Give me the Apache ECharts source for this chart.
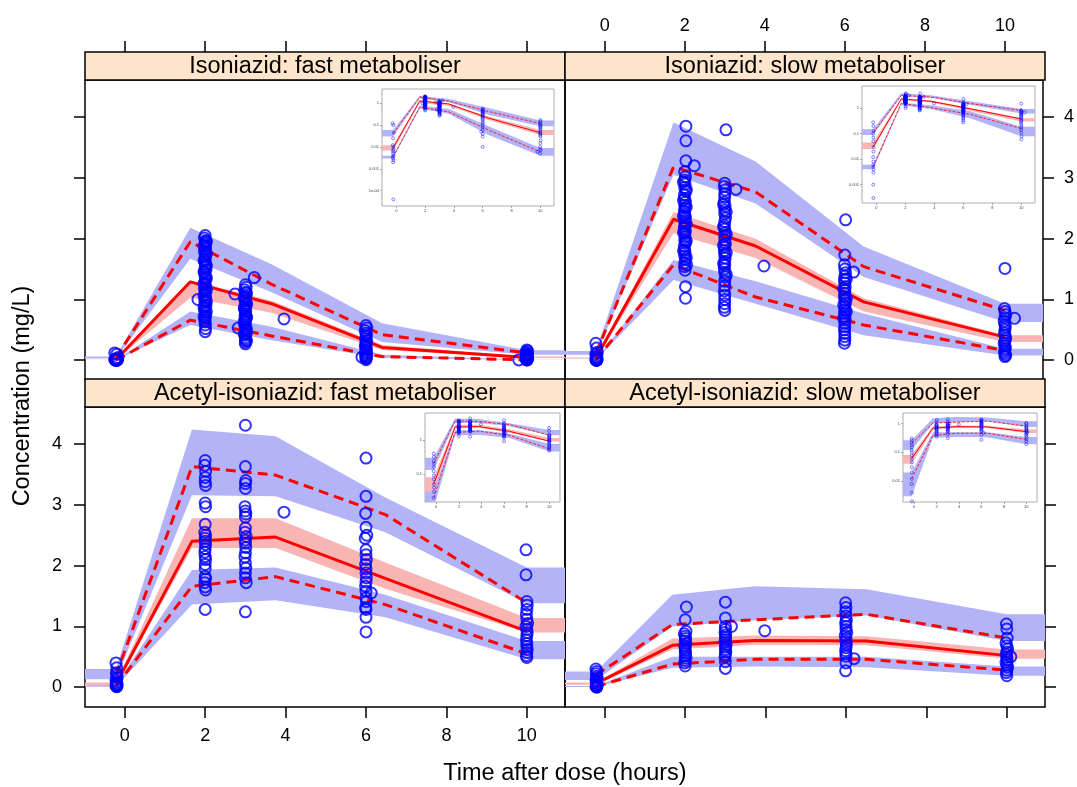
<!DOCTYPE html>
<html><head><meta charset="utf-8">
<script src="https://cdn.jsdelivr.net/npm/echarts@6/dist/echarts.min.js"></script>
<style>html,body{margin:0;padding:0;background:#fff}#c{width:1077px;height:787px}</style>
</head><body><div id="c"></div>
<script>
// ---------- tick labels / titles ----------
const xTicks = [0, 2, 4, 6, 8, 10];
const yTicks = [0, 1, 2, 3, 4];
const logTicks = [1e-4, 1e-3, 0.01, 0.1, 1];
const panelTitles = ['Isoniazid: fast metaboliser', 'Isoniazid: slow metaboliser',
  'Acetyl-isoniazid: fast metaboliser', 'Acetyl-isoniazid: slow metaboliser'];
const xTitle = 'Time after dose (hours)';
const yTitle = 'Concentration (mg/L)';

// ---------- Isoniazid, fast metaboliser ----------
const inhFastBinTime = [-0.22, 1.63, 3.65, 6.4, 10.0];
const inhFastMedian = [0.009, 1.29, 0.93, 0.21, 0.045];
const inhFastMedianLo = [0.007, 1.03, 0.78, 0.17, 0.035];
const inhFastMedianHi = [0.012, 1.31, 0.98, 0.25, 0.06];
const inhFastP95 = [0.04, 1.95, 1.25, 0.42, 0.12];
const inhFastP95Lo = [0.03, 1.67, 1.12, 0.3, 0.09];
const inhFastP95Hi = [0.06, 2.18, 1.58, 0.61, 0.165];
const inhFastP5 = [0.0035, 0.66, 0.4, 0.06, 0.006];
const inhFastP5Lo = [0.003, 0.58, 0.33, 0.035, 0.004];
const inhFastP5Hi = [0.004, 0.8, 0.55, 0.09, 0.009];
const inhFastObs = [
  [-0.25,0.12],[-0.2,0.1],[-0.17,0.045],[-0.22,0.025],[-0.25,0.012],[-0.2,0.01],[-0.18,0.008],[-0.23,0.007],[-0.2,0.006],[-0.22,0.005],[-0.19,0.004],[-0.24,0.0035],[-0.21,0.003],[-0.2,0.0025],[-0.22,0.002],[-0.2,0.00004],
  [2.0,2.05],[1.98,2.01],[2.02,1.97],[2.0,1.93],[1.99,1.9],[2.01,1.86],[2.0,1.83],[1.98,1.79],[2.02,1.74],[2.0,1.71],[2.0,1.66],[1.99,1.62],[2.01,1.58],[2.0,1.53],[2.02,1.49],[1.98,1.44],[2.0,1.41],[2.0,1.37],[2.01,1.33],[1.99,1.28],[2.0,1.24],[2.02,1.2],[1.98,1.17],[2.0,1.12],[2.0,1.08],[2.01,1.03],[1.82,1.0],[1.99,0.99],[2.0,0.95],[2.02,0.9],[2.0,0.86],[1.98,0.83],[2.0,0.78],[2.01,0.74],[2.0,0.7],[1.99,0.66],[2.0,0.63],[2.0,0.58],[2.01,0.52],[2.0,0.47],
  [2.03,1.95],[1.97,1.88],[2.03,1.76],[1.97,1.64],[2.03,1.55],[1.97,1.46],[2.03,1.35],[1.97,1.26],[2.03,1.15],[1.97,1.06],[2.03,0.97],[1.97,0.88],[2.03,0.8],[1.97,0.72],
  [3.0,1.24],[3.22,1.36],[3.02,1.2],[2.98,1.16],[3.0,1.12],[2.74,1.09],[3.01,1.05],[3.0,1.01],[2.99,0.98],[3.02,0.94],[3.0,0.9],[2.98,0.87],[3.0,0.83],[3.01,0.8],[3.0,0.76],[2.99,0.73],[3.02,0.69],[3.0,0.66],[3.0,0.62],[2.98,0.59],[3.01,0.55],[2.82,0.53],[3.0,0.51],[3.0,0.48],[3.02,0.44],[2.99,0.41],[3.0,0.37],[3.01,0.34],[3.0,0.3],[3.0,0.27],
  [3.03,1.1],[2.97,1.03],[3.03,0.92],[2.97,0.85],[3.03,0.71],[2.97,0.64],[3.03,0.5],[2.97,0.43],[3.03,0.32],
  [3.96,0.68],
  [6.0,0.57],[6.02,0.53],[5.98,0.49],[6.0,0.45],[6.01,0.42],[6.0,0.39],[5.99,0.35],[6.02,0.32],[6.0,0.29],[6.0,0.26],[5.98,0.23],[6.01,0.2],[6.0,0.17],[6.0,0.14],[6.02,0.12],[5.99,0.1],[6.0,0.08],[6.0,0.06],[5.9,0.05],[6.01,0.04],[6.0,0.03],[6.0,0.01],
  [10.0,0.17],[10.02,0.15],[9.98,0.13],[10.0,0.11],[10.01,0.1],[10.0,0.09],[9.99,0.08],[10.02,0.07],[10.0,0.06],[10.0,0.05],[9.98,0.045],[10.01,0.04],[10.0,0.035],[10.0,0.03],[10.02,0.02],[10.0,0.015],[9.99,0.01],[10.0,0.008],[10.01,0.007],[9.8,0.006],[10.0,0.005]
];

// ---------- Isoniazid, slow metaboliser ----------
const inhSlowBinTime = [-0.22, 1.72, 3.77, 6.47, 10.0];
const inhSlowMedian = [0.03, 2.32, 1.88, 0.96, 0.38];
const inhSlowMedianLo = [0.025, 2.09, 1.68, 0.8, 0.3];
const inhSlowMedianHi = [0.045, 2.44, 2.0, 1.02, 0.41];
const inhSlowP95 = [0.11, 3.18, 2.77, 1.54, 0.82];
const inhSlowP95Lo = [0.09, 3.05, 2.58, 1.37, 0.63];
const inhSlowP95Hi = [0.15, 3.91, 3.27, 1.87, 0.93];
const inhSlowP5 = [0.005, 1.57, 1.04, 0.58, 0.16];
const inhSlowP5Lo = [0.004, 1.32, 0.93, 0.41, 0.08];
const inhSlowP5Hi = [0.006, 1.65, 1.3, 0.77, 0.19];
const inhSlowObs = [
  [-0.22,0.28],[-0.2,0.2],[-0.18,0.13],[-0.22,0.1],[-0.2,0.07],[-0.21,0.05],[-0.19,0.03],[-0.2,0.02],[-0.22,0.012],[-0.2,0.008],[-0.21,0.006],[-0.2,0.005],[-0.19,0.004],[-0.2,0.003],[-0.21,0.001],[-0.2,0.0003],
  [2.03,3.85],[2.03,3.61],[2.03,3.28],[2.24,3.2],[2.0,3.1],[2.02,3.02],[2.0,2.96],[2.01,2.9],[2.0,2.84],[2.03,2.78],[1.99,2.72],[2.0,2.66],[2.02,2.6],[2.0,2.55],[2.01,2.5],[1.99,2.45],[2.0,2.4],[2.02,2.35],[2.0,2.3],[2.01,2.26],[2.0,2.21],[1.99,2.17],[2.02,2.12],[2.0,2.08],[2.01,2.03],[2.0,1.98],[2.02,1.93],[1.99,1.88],[2.0,1.82],[2.01,1.77],[2.0,1.72],[2.02,1.66],[2.0,1.6],[2.05,1.57],[2.0,1.54],[2.01,1.48],[2.02,1.21],[2.02,1.02],
  [1.97,2.93],[2.04,2.81],[1.97,2.63],[2.04,2.52],[1.97,2.37],[2.04,2.24],[1.97,2.1],[2.04,1.96],[1.97,1.8],[2.04,1.69],
  [3.03,3.79],[3.28,2.81],[3.0,2.91],[2.99,2.86],[3.01,2.8],[3.0,2.74],[3.0,2.68],[2.99,2.6],[3.01,2.53],[3.0,2.47],[3.0,2.41],[3.02,2.34],[3.0,2.28],[2.99,2.22],[3.0,2.16],[3.01,2.1],[3.0,2.04],[3.0,1.98],[3.02,1.92],[3.0,1.86],[2.99,1.8],[3.0,1.74],[3.01,1.68],[3.0,1.62],[3.0,1.56],[2.99,1.5],[3.0,1.44],[3.02,1.37],[3.0,1.3],[3.0,1.22],[2.99,1.14],[3.0,1.07],[3.0,1.0],[3.0,0.93],[2.99,0.87],[3.0,0.82],
  [2.97,2.56],[3.04,2.44],[2.97,2.19],[3.04,2.07],[2.97,1.89],[3.04,1.77],[2.97,1.59],[3.04,1.41],
  [3.98,1.55],
  [6.02,2.31],[6.0,1.73],[5.99,1.57],[6.22,1.45],[6.0,1.5],[6.02,1.44],[6.0,1.38],[5.99,1.32],[6.0,1.27],[6.01,1.21],[6.0,1.15],[6.0,1.1],[5.99,1.05],[6.0,0.99],[6.02,0.94],[6.0,0.88],[6.0,0.83],[5.99,0.77],[6.0,0.72],[6.01,0.66],[6.0,0.61],[6.0,0.55],[5.99,0.5],[6.0,0.44],[6.0,0.39],[6.0,0.33],[5.99,0.28],
  [6.04,1.34],[5.97,1.18],[6.04,1.02],[5.97,0.91],[6.04,0.8],[5.97,0.69],
  [10.0,1.51],[9.99,0.85],[10.0,0.8],[10.24,0.69],[10.02,0.75],[10.0,0.7],[9.98,0.64],[10.0,0.59],[10.01,0.55],[10.0,0.5],[9.99,0.45],[10.0,0.41],[10.02,0.36],[10.0,0.32],[9.98,0.28],[10.0,0.24],[10.01,0.2],[10.0,0.17],[9.99,0.14],[10.0,0.11],[10.02,0.08],[10.0,0.06]
];

// ---------- Acetyl-isoniazid, fast metaboliser ----------
const acFastBinTime = [-0.22, 1.67, 3.75, 6.48, 10.0];
const acFastMedian = [0.05, 2.40, 2.47, 1.79, 0.92];
const acFastMedianLo = [0.03, 2.29, 2.29, 1.62, 0.9];
const acFastMedianHi = [0.08, 2.78, 2.78, 2.05, 1.14];
const acFastP95 = [0.2, 3.63, 3.49, 2.84, 1.39];
const acFastP95Lo = [0.13, 3.16, 3.14, 2.55, 1.38];
const acFastP95Hi = [0.3, 4.24, 4.13, 3.12, 1.97];
const acFastP5 = [0.02, 1.66, 1.82, 1.36, 0.55];
const acFastP5Lo = [0.01, 1.36, 1.43, 1.15, 0.46];
const acFastP5Hi = [0.035, 1.93, 1.97, 1.52, 0.76];
const acFastObs = [
  [-0.22,0.4],[-0.2,0.32],[-0.21,0.24],[-0.2,0.2],[-0.19,0.16],[-0.22,0.12],[-0.2,0.09],[-0.21,0.07],[-0.2,0.05],[-0.19,0.04],[-0.2,0.03],[-0.22,0.02],[-0.2,0.012],[-0.2,0.008],
  [2.0,3.73],[1.99,3.65],[2.01,3.55],[2.0,3.45],[2.0,3.38],[2.01,3.32],[2.0,3.03],[2.01,2.97],[2.0,2.68],[1.99,2.55],[2.01,2.5],[2.0,2.45],[2.0,2.4],[2.01,2.35],[2.0,2.28],[1.99,2.22],[2.0,2.15],[2.01,2.1],[2.0,2.02],[2.0,1.95],[2.0,1.82],[2.01,1.78],[1.99,1.72],[2.0,1.65],[2.01,1.6],[2.0,1.28],
  [3.0,4.31],[3.0,3.63],[3.01,3.4],[3.0,3.35],[3.0,3.27],[2.99,2.97],[3.0,2.9],[3.01,2.85],[3.0,2.8],[3.0,2.62],[2.99,2.55],[3.02,2.48],[3.0,2.42],[3.0,2.37],[3.01,2.3],[3.0,2.21],[2.99,2.14],[3.0,2.04],[3.01,1.96],[3.0,1.88],[3.0,1.8],[3.02,1.72],[3.0,1.24],
  [3.96,2.88],
  [6.0,3.77],[6.0,3.14],[5.99,2.86],[6.0,2.63],[6.02,2.5],[5.98,2.45],[6.0,2.26],[6.0,2.18],[6.01,2.1],[5.99,2.02],[6.0,1.95],[6.0,1.88],[6.01,1.8],[6.0,1.73],[5.99,1.66],[6.0,1.58],[6.13,1.55],[6.0,1.47],[6.01,1.41],[5.99,1.31],[6.0,1.28],[6.0,1.15],[6.0,0.91],
  [9.98,2.26],[9.98,1.85],[10.0,1.41],[10.01,1.35],[10.0,1.28],[9.99,1.2],[10.0,1.12],[10.02,1.05],[9.98,1.0],[10.0,0.95],[10.01,0.9],[10.0,0.85],[9.99,0.78],[10.0,0.72],[10.0,0.67],[10.01,0.62],[10.0,0.57],[9.99,0.52],[10.0,0.49]
];

// ---------- Acetyl-isoniazid, slow metaboliser ----------
const acSlowBinTime = [-0.22, 1.68, 3.73, 6.51, 10.0];
const acSlowMedian = [0.06, 0.69, 0.77, 0.76, 0.52];
const acSlowMedianLo = [0.04, 0.62, 0.7, 0.69, 0.47];
const acSlowMedianHi = [0.08, 0.8, 0.85, 0.84, 0.62];
const acSlowP95 = [0.2, 1.03, 1.11, 1.2, 0.81];
const acSlowP95Lo = [0.12, 1.0, 1.1, 1.18, 0.76];
const acSlowP95Hi = [0.26, 1.52, 1.66, 1.61, 1.2];
const acSlowP5 = [0.012, 0.38, 0.46, 0.46, 0.28];
const acSlowP5Lo = [0.003, 0.32, 0.34, 0.33, 0.19];
const acSlowP5Hi = [0.02, 0.5, 0.5, 0.5, 0.34];
const acSlowObs = [
  [-0.22,0.3],[-0.2,0.26],[-0.21,0.22],[-0.2,0.18],[-0.19,0.15],[-0.22,0.12],[-0.2,0.1],[-0.21,0.08],[-0.2,0.06],[-0.19,0.045],[-0.2,0.03],[-0.21,0.02],[-0.2,0.012],[-0.22,0.008],[-0.2,0.004],[-0.2,0.002],
  [2.03,1.32],[2.0,1.11],[2.02,0.92],[1.98,0.88],[2.0,0.84],[2.01,0.8],[2.0,0.76],[2.02,0.72],[1.99,0.68],[2.0,0.64],[2.0,0.6],[2.01,0.56],[2.0,0.52],[2.02,0.48],[2.0,0.44],[1.99,0.4],[2.0,0.35],
  [3.0,1.4],[3.0,1.14],[3.0,1.0],[3.15,1.0],[3.0,0.95],[2.99,0.9],[3.01,0.86],[3.0,0.82],[3.0,0.78],[2.99,0.74],[3.02,0.7],[3.0,0.66],[3.0,0.62],[3.01,0.58],[3.0,0.54],[2.99,0.5],[3.0,0.42],[3.0,0.31],
  [3.98,0.93],
  [5.99,1.39],[6.0,1.31],[5.99,1.24],[6.0,1.17],[6.01,1.1],[5.99,1.06],[6.0,1.0],[6.0,0.95],[6.02,0.9],[5.98,0.85],[6.0,0.8],[6.0,0.75],[6.01,0.7],[6.0,0.65],[5.99,0.6],[6.0,0.55],[6.0,0.51],[6.2,0.47],[6.0,0.4],[5.99,0.27],
  [9.99,1.04],[10.0,0.96],[10.01,0.81],[9.98,0.73],[10.0,0.68],[10.02,0.63],[10.0,0.58],[10.1,0.5],[9.99,0.54],[10.0,0.49],[10.01,0.45],[9.98,0.41],[10.0,0.37],[10.02,0.33],[10.0,0.28],[9.99,0.24],[10.0,0.19]
];

// ---------- layout & styling ----------
const FONT = '"Liberation Sans", Arial, Helvetica, sans-serif';
const XMIN = -0.99, XMAX = 10.95, YMIN = -0.325, YMAX = 4.61;
const BLUE_BAND = '#b3b3f7', RED_BAND = '#f9b4b4', RED = '#ff0000', BLUE = '#0000ff';

const panels = [
  { title: panelTitles[0], bin: inhFastBinTime, med: inhFastMedian, medLo: inhFastMedianLo, medHi: inhFastMedianHi,
    p95: inhFastP95, p95Lo: inhFastP95Lo, p95Hi: inhFastP95Hi, p5: inhFastP5, p5Lo: inhFastP5Lo, p5Hi: inhFastP5Hi, obs: inhFastObs,
    left: 85, top: 80, xPos: 'top', xLab: false, yPos: 'left', yLab: false,
    inset: { left: 382, top: 89, width: 172, height: 117, ymin: 2e-5, ymax: 4.5 } },
  { title: panelTitles[1], bin: inhSlowBinTime, med: inhSlowMedian, medLo: inhSlowMedianLo, medHi: inhSlowMedianHi,
    p95: inhSlowP95, p95Lo: inhSlowP95Lo, p95Hi: inhSlowP95Hi, p5: inhSlowP5, p5Lo: inhSlowP5Lo, p5Hi: inhSlowP5Hi, obs: inhSlowObs,
    left: 565, top: 80, xPos: 'top', xLab: true, yPos: 'right', yLab: true,
    inset: { left: 862, top: 86, width: 173, height: 117, ymin: 1.9e-4, ymax: 7.5 } },
  { title: panelTitles[2], bin: acFastBinTime, med: acFastMedian, medLo: acFastMedianLo, medHi: acFastMedianHi,
    p95: acFastP95, p95Lo: acFastP95Lo, p95Hi: acFastP95Hi, p5: acFastP5, p5Lo: acFastP5Lo, p5Hi: acFastP5Hi, obs: acFastObs,
    left: 85, top: 407, xPos: 'bottom', xLab: true, yPos: 'left', yLab: true,
    inset: { left: 425, top: 413, width: 135, height: 89, ymin: 0.015, ymax: 6.2 } },
  { title: panelTitles[3], bin: acSlowBinTime, med: acSlowMedian, medLo: acSlowMedianLo, medHi: acSlowMedianHi,
    p95: acSlowP95, p95Lo: acSlowP95Lo, p95Hi: acSlowP95Hi, p5: acSlowP5, p5Lo: acSlowP5Lo, p5Hi: acSlowP5Hi, obs: acSlowObs,
    left: 565, top: 407, xPos: 'bottom', xLab: false, yPos: 'right', yLab: false,
    inset: { left: 903, top: 413, width: 134, height: 89, ymin: 0.0019, ymax: 2.3 } }
];
const PW = 480, PH = 300, STRIP = 28;

function bandSeries(ax, bin, lo, hi, color, z) {
  return {
    type: 'custom', xAxisIndex: ax, yAxisIndex: ax, z: z, silent: true, clip: true,
    data: bin.map((t, i) => [t, lo[i], hi[i]]),
    encode: { x: 0, y: [1, 2] },
    renderItem: function (params, api) {
      if (params.dataIndex !== 0) return null;
      const n = bin.length, pts = [];
      pts.push(api.coord([XMIN, lo[0]]));
      for (let i = 0; i < n; i++) pts.push(api.coord([bin[i], lo[i]]));
      pts.push(api.coord([XMAX, lo[n - 1]]));
      pts.push(api.coord([XMAX, hi[n - 1]]));
      for (let i = n - 1; i >= 0; i--) pts.push(api.coord([bin[i], hi[i]]));
      pts.push(api.coord([XMIN, hi[0]]));
      return { type: 'polygon', shape: { points: pts }, style: { fill: color } };
    }
  };
}
function lineSeries(ax, bin, vals, width, dash, z) {
  return {
    type: 'line', xAxisIndex: ax, yAxisIndex: ax, z: z, silent: true, clip: true,
    data: bin.map((t, i) => [t, vals[i]]), symbol: 'none',
    lineStyle: { color: RED, width: width, type: dash || 'solid', cap: 'butt' }
  };
}
function obsSeries(ax, obs, size, bw, z) {
  return {
    type: 'scatter', xAxisIndex: ax, yAxisIndex: ax, z: z, silent: true, clip: true,
    data: obs, symbol: 'circle', symbolSize: size,
    itemStyle: { color: 'rgba(0,0,0,0)', borderColor: BLUE, borderWidth: bw }
  };
}

const grid = [], xAxis = [], yAxis = [], series = [], graphic = [];
panels.forEach((p, i) => {
  grid.push({ left: p.left, top: p.top, width: PW, height: PH, show: true, borderColor: '#000', borderWidth: 1.5, backgroundColor: 'transparent' });
  xAxis.push({
    gridIndex: i, type: 'value', min: XMIN, max: XMAX, position: p.xPos, offset: p.xPos === 'top' ? STRIP : 0,
    axisLine: { show: false, onZero: false }, splitLine: { show: false },
    axisTick: { show: true, inside: false, length: 11, customValues: xTicks, lineStyle: { color: '#000', width: 1.5 } },
    axisLabel: { show: p.xLab, customValues: xTicks, margin: p.xPos === 'top' ? 17 : 20, fontSize: 18, color: '#000', fontFamily: FONT }
  });
  yAxis.push({
    gridIndex: i, type: 'value', min: YMIN, max: YMAX, position: p.yPos,
    axisLine: { show: false, onZero: false }, splitLine: { show: false },
    axisTick: { show: true, inside: false, length: 11, customValues: yTicks, lineStyle: { color: '#000', width: 1.5 } },
    axisLabel: { show: p.yLab, customValues: yTicks, margin: p.yPos === 'left' ? 23 : 21, fontSize: 18, color: '#000', fontFamily: FONT }
  });
  series.push(bandSeries(i, p.bin, p.p95Lo, p.p95Hi, BLUE_BAND, 1));
  series.push(bandSeries(i, p.bin, p.p5Lo, p.p5Hi, BLUE_BAND, 1));
  series.push(bandSeries(i, p.bin, p.medLo, p.medHi, RED_BAND, 1));
  series.push(lineSeries(i, p.bin, p.med, 3, null, 3));
  series.push(lineSeries(i, p.bin, p.p95, 3, [10, 6], 3));
  series.push(lineSeries(i, p.bin, p.p5, 3, [10, 6], 3));
  series.push(obsSeries(i, p.obs, 11, 2, 4));
  // strip
  graphic.push({ type: 'rect', z: 10, shape: { x: p.left, y: p.top - STRIP, width: PW, height: STRIP },
    style: { fill: '#ffe5cc', stroke: '#000', lineWidth: 1.5 } });
  graphic.push({ type: 'text', z: 11, x: p.left + PW / 2, y: p.top - STRIP / 2 + 0.5,
    style: { text: p.title, font: '23.5px ' + FONT, fill: '#000', textAlign: 'center', textVerticalAlign: 'middle' } });
});
panels.forEach((p, i) => {
  const g = 4 + i, s = p.inset;
  grid.push({ left: s.left, top: s.top, width: s.width, height: s.height, show: true, borderColor: '#9a9a9a', borderWidth: 0.8, backgroundColor: 'transparent' });
  xAxis.push({
    gridIndex: g, type: 'value', min: XMIN, max: XMAX, position: 'bottom',
    axisLine: { show: false, onZero: false }, splitLine: { show: false },
    axisTick: { show: true, length: 2, customValues: xTicks, lineStyle: { color: '#777', width: 0.6 } },
    axisLabel: { show: true, customValues: xTicks, margin: 3, fontSize: 4, color: '#444', fontFamily: FONT }
  });
  const lt = logTicks.filter(v => v >= s.ymin && v <= s.ymax);
  yAxis.push({
    gridIndex: g, type: 'log', logBase: 10, min: s.ymin, max: s.ymax, position: 'left',
    axisLine: { show: false, onZero: false }, splitLine: { show: false },
    axisTick: { show: true, length: 2, customValues: lt, lineStyle: { color: '#777', width: 0.6 } },
    minorTick: { show: true, length: 1, lineStyle: { color: '#999', width: 0.4 } },
    axisLabel: { show: true, customValues: lt, margin: 3, fontSize: 4, color: '#444', fontFamily: FONT,
      formatter: v => (v < 0.00099 ? '1e-04' : String(+v.toPrecision(3))) }
  });
  series.push(bandSeries(g, p.bin, p.p95Lo, p.p95Hi, BLUE_BAND, 5));
  series.push(bandSeries(g, p.bin, p.p5Lo, p.p5Hi, BLUE_BAND, 5));
  series.push(bandSeries(g, p.bin, p.medLo, p.medHi, RED_BAND, 5));
  series.push(lineSeries(g, p.bin, p.med, 1, null, 6));
  series.push(lineSeries(g, p.bin, p.p95, 0.8, [3, 1.5], 6));
  series.push(lineSeries(g, p.bin, p.p5, 0.8, [3, 1.5], 6));
  series.push(obsSeries(g, p.obs, 3, 0.6, 7));
});
graphic.push({ type: 'text', z: 11, x: 565, y: 774,
  style: { text: xTitle, font: '23.5px ' + FONT, fill: '#000', textAlign: 'center', textVerticalAlign: 'middle' } });
graphic.push({ type: 'text', z: 11, x: 23, y: 396, rotation: Math.PI / 2,
  style: { text: yTitle, font: '23.5px ' + FONT, fill: '#000', textAlign: 'center', textVerticalAlign: 'middle' } });

const chart = echarts.init(document.getElementById('c'), null, { renderer: 'canvas' });
chart.setOption({
  animation: false, backgroundColor: '#ffffff',
  grid: grid, xAxis: xAxis, yAxis: yAxis, series: series, graphic: graphic
});
</script></body></html>
